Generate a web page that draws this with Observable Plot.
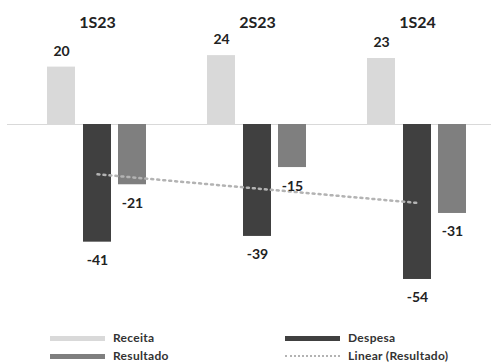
<!DOCTYPE html>
<html>
<head>
<meta charset="utf-8">
<script src="https://cdn.jsdelivr.net/npm/d3@7"></script>
<script src="https://cdn.jsdelivr.net/npm/@observablehq/plot@0.6"></script>
<style>
  html, body { margin: 0; padding: 0; background: #fff; }
  #wrap { position: relative; width: 491px; height: 362px; font-family: Lato, "Open Sans", sans-serif; overflow: hidden; }
  .lg { position: absolute; font-weight: 700; font-size: 12px; color: #333; letter-spacing: 0.3px; }
  .sw { position: absolute; width: 55px; height: 5px; }
</style>
</head>
<body>
<div id="wrap"></div>
<script>
// ---- data ----
const periods = ["1S23", "2S23", "1S24"];
const receita = [20, 24, 23];
const despesa = [-41, -39, -54];
const resultado = [-21, -15, -31];
const seriesNames = ["Receita", "Despesa", "Resultado", "Linear (Resultado)"];
const seriesColors = ["#d9d9d9", "#404040", "#7f7f7f", "#b3b3b3"];

// table for bars
const rows = [];
periods.forEach((p, i) => {
  rows.push({period: p, series: seriesNames[0], value: receita[i]});
  rows.push({period: p, series: seriesNames[1], value: despesa[i]});
  rows.push({period: p, series: seriesNames[2], value: resultado[i]});
});

// least-squares linear trend of Resultado (like Excel's "Linear" trendline)
const idx = periods.map((_, i) => i + 1);
const mx = d3.mean(idx), my = d3.mean(resultado);
const slope = d3.sum(idx, (x, i) => (x - mx) * (resultado[i] - my)) / d3.sum(idx, x => (x - mx) ** 2);
const intercept = my - slope * mx;
const trend = periods.map((p, i) => ({period: p, value: intercept + slope * idx[i]}));

const offsets = {Receita: -36, Despesa: 0, Resultado: 35};
const color = {domain: seriesNames, range: seriesColors};

const bars = s => rows.filter(d => d.series === s);

const chart = Plot.plot({
  width: 491,
  height: 322,
  marginLeft: 7,
  marginRight: 0,
  marginTop: 0,
  marginBottom: 0,
  style: {fontFamily: "Lato, 'Open Sans', sans-serif", background: "#fff"},
  x: {domain: periods, range: [15.75, 497.25], paddingInner: 0.8255, paddingOuter: 0.41275, axis: null},
  y: {domain: [-60, 30], range: [296.2, 37.9], axis: null},
  color,
  marks: [
    Plot.ruleY([0], {stroke: "#d9d9d9", strokeWidth: 1}),
    ...["Receita", "Despesa", "Resultado"].map(s =>
      Plot.barY(bars(s), {x: "period", y: "value", fill: "series", dx: offsets[s]})
    ),
    Plot.line(trend, {x: "period", y: "value", stroke: seriesColors[3], strokeWidth: 2.5,
      strokeDasharray: "2,4", strokeLinecap: "round"}),
    ...["Receita", "Despesa", "Resultado"].map(s =>
      Plot.text(bars(s), {x: "period", y: "value", text: d => String(d.value),
        dx: offsets[s], dy: s === "Receita" ? -16 : 18.5,
        fontSize: 14, fontWeight: 700, fill: "#222"})
    ),
    Plot.text(periods, {x: d => d, frameAnchor: "top", dy: 22, lineAnchor: "middle",
      text: d => d, fontSize: 16, fontWeight: 700, fill: "#222"})
  ]
});

const wrap = document.getElementById("wrap");
wrap.appendChild(chart);

// legend (HTML, below the SVG)
const legendPos = [
  {x: 50, y: 338}, {x: 285, y: 338}, {x: 50, y: 356}, {x: 285, y: 356}
];
seriesNames.forEach((name, i) => {
  const p = legendPos[i];
  const sw = document.createElement("div");
  sw.className = "sw";
  sw.style.left = p.x + "px";
  if (i === 3) {
    sw.style.top = (p.y - 1) + "px";
    sw.style.height = "0px";
    sw.style.borderTop = "2px dotted " + seriesColors[3];
  } else {
    sw.style.top = (p.y - 2.5) + "px";
    sw.style.background = seriesColors[i];
  }
  wrap.appendChild(sw);
  const t = document.createElement("div");
  t.className = "lg";
  t.textContent = name;
  t.style.left = (p.x + 63) + "px";
  t.style.top = (p.y - 8) + "px";
  wrap.appendChild(t);
});
</script>
</body>
</html>
